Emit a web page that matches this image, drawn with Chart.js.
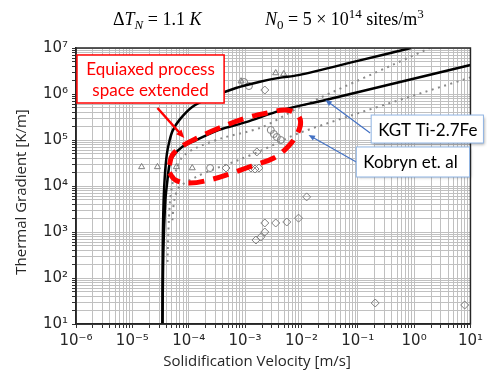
<!DOCTYPE html>
<html>
<head>
<meta charset="utf-8">
<script src="https://cdn.jsdelivr.net/npm/chart.js@4.4.0/dist/chart.umd.min.js"></script>
<style>
  html, body { margin: 0; padding: 0; background: #fff; }
  #wrap { width: 487px; height: 373px; }
</style>
</head>
<body>
<div id="wrap"><canvas id="myChart" width="487" height="373"></canvas></div>
<script>
// curves: velocity [m/s] and gradient [K/m]
let kgtUpperV = [3.42e-5, 3.45e-5, 3.55e-5, 3.75e-5, 4.1e-5, 4.6e-5, 5.2e-5, 6.8e-5, 1.15e-4, 2.3e-4, 6.9e-4, 1.76e-3, 4.0e-3, 8.9e-3, 0.1, 0.88];
let kgtUpperG = [10, 300, 3e3, 1.5e4, 5e4, 1e5, 1.6e5, 2.7e5, 5.2e5, 8.1e5, 1.35e6, 1.82e6, 2.24e6, 2.57e6, 5.25e6, 1e7];
let kgtLowerV = [3.42e-5, 3.56e-5, 3.86e-5, 4.2e-5, 4.55e-5, 5.14e-5, 7.7e-5, 1.36e-4, 3.47e-4, 1.04e-3, 4.48e-3, 2.67e-2, 10];
let kgtLowerG = [10, 407, 5.0e3, 1.35e4, 2.88e4, 4.27e4, 7.1e4, 1e5, 1.66e5, 2.45e5, 4.47e5, 7.4e5, 4.27e6];
let kobUpperV = [4.2e-5, 4.37e-5, 4.68e-5, 5.25e-5, 6.0e-5, 7.7e-5, 1.36e-4, 3.92e-4, 2.0e-3, 8.9e-3, 1.9];
let kobUpperG = [224, 1.1e3, 5.0e3, 1.26e4, 2.24e4, 4.27e4, 6.76e4, 1.1e5, 1.9e5, 5.0e5, 1e7];
let kobLowerV = [5.14e-5, 5.57e-5, 6.82e-5, 1.36e-4, 2.6e-4, 7.8e-4, 2.0e-3, 1.0e-2, 10];
let kobLowerG = [1.8e3, 5.0e3, 9.5e3, 1.58e4, 2.24e4, 3.7e4, 6.0e4, 1.48e5, 2.3e6];

// red dashed "extended" region outline
let regionV = [4.55e-5, 5.14e-5, 7.7e-5, 1.54e-4, 3.47e-4, 1.04e-3, 2.98e-3, 5.26e-3, 8.22e-3, 9.68e-3, 8.57e-3, 5.94e-3, 3.24e-3, 1.32e-3, 5.2e-4, 2.31e-4, 1.03e-4, 5.8e-5, 4.55e-5];
let regionG = [2.86e4, 4.72e4, 7.41e4, 1.16e5, 1.82e5, 3.0e5, 4.06e5, 4.49e5, 3.67e5, 2.46e5, 1.42e5, 7.41e4, 4.06e4, 2.72e4, 1.82e4, 1.35e4, 1.16e4, 1.35e4, 1.92e4];

// experimental points
let triV = [1.46e-5, 2.79e-5, 6.04e-5, 1.156e-4, 8.5e-4, 3.5e-3, 4.85e-3];
let triG = [2.6e4, 2.6e4, 2.6e4, 2.46e4, 1.9e6, 2.86e6, 2.72e6];
let circV = [9.6e-4, 1.17e-3, 2.4e-4, 2.86e-3, 3.24e-3, 3.66e-3, 4.3e-3];
let circG = [1.82e6, 1.49e6, 2.46e4, 1.65e5, 1.35e5, 1.16e5, 1e5];
let diaV = [2.24e-3, 4.6e-4, 1.62e-3, 1.27e-3, 1.5e-3, 1.76e-3, 1.56e-3, 1.9e-3, 2.24e-3, 2.24e-3, 3.5e-3, 5.5e-3, 8.9e-3, 1.24e-2, 0.204, 7.9];
let diaG = [1.22e6, 2.46e4, 5.5e4, 2.46e4, 2.34e4, 2.46e4, 670, 776, 1e3, 1.57e3, 1.57e3, 1.65e3, 2.0e3, 5.8e3, 28.6, 25.9];

function pts(xs, ys) {
  return xs.map((x, i) => ({x: x, y: ys[i]}));
}

let sup = {'-': '⁻', '0': '⁰', '1': '¹', '2': '²', '3': '³', '4': '⁴', '5': '⁵', '6': '⁶', '7': '⁷', '8': '⁸', '9': '⁹'};
function powLabel(v) {
  let e = Math.log10(v);
  if (Math.abs(e - Math.round(e)) > 1e-6) return '';
  return '10' + String(Math.round(e)).split('').map(c => sup[c]).join('');
}
function logTicks(lo, hi) {
  let t = [];
  for (let e = lo; e < hi; e++) {
    for (let m = 1; m < 10; m++) t.push({value: m * Math.pow(10, e)});
  }
  t.push({value: Math.pow(10, hi)});
  return t;
}

let lineBase = {showLine: true, pointRadius: 0, fill: false, tension: 0.3};
let markBase = {showLine: false, borderColor: '#7f7f7f', backgroundColor: 'rgba(255,255,255,0)', borderWidth: 1};

// text boxes and arrows, placed in data units
let notes = {
  equiax: {v0: 1.04e-6, v1: 4.25e-4, g0: 7.05e6, g1: 6.37e5, lines: ['Equiaxed process', 'space extended']},
  redArrow: {v0: 2.79e-5, g0: 4.97e5, v1: 8.36e-5, g1: 1.1e5},
  kgt: {v0: 0.173, v1: 17, g0: 3.49e5, g1: 8.6e4, text: 'KGT Ti-2.7Fe'},
  kgtArrow: {v0: 0.166, g0: 1.42e5, v1: 0.0267, g1: 7.41e5},
  kob: {v0: 0.0942, v1: 9.64, g0: 7.05e4, g1: 1.57e4, text: 'Kobryn et. al'},
  kobArrow: {v0: 0.0942, g0: 3.33e4, v1: 0.0134, g1: 1.285e5}
};

function arrow(ctx, x0, y0, x1, y1, color, w, head) {
  let a = Math.atan2(y1 - y0, x1 - x0);
  ctx.strokeStyle = color;
  ctx.fillStyle = color;
  ctx.lineWidth = w;
  ctx.beginPath();
  ctx.moveTo(x0, y0);
  ctx.lineTo(x1 - Math.cos(a) * head * 0.8, y1 - Math.sin(a) * head * 0.8);
  ctx.stroke();
  ctx.beginPath();
  ctx.moveTo(x1, y1);
  ctx.lineTo(x1 - head * Math.cos(a - 0.4), y1 - head * Math.sin(a - 0.4));
  ctx.lineTo(x1 - head * Math.cos(a + 0.4), y1 - head * Math.sin(a + 0.4));
  ctx.closePath();
  ctx.fill();
}

let extras = {
  id: 'extras',
  afterDatasetsDraw(chart) {
    let ctx = chart.ctx, xs = chart.scales.x, ys = chart.scales.y, a = chart.chartArea;
    let px = v => xs.getPixelForValue(v), py = g => ys.getPixelForValue(g);
    ctx.save();
    // frame
    ctx.strokeStyle = '#262626';
    ctx.lineWidth = 1.5;
    ctx.strokeRect(a.left, a.top, a.right - a.left, a.bottom - a.top);

    // red box
    let n = notes.equiax;
    let bx = px(n.v0), by = py(n.g0), bw = px(n.v1) - bx, bh = py(n.g1) - by;
    ctx.fillStyle = '#fff';
    ctx.fillRect(bx, by, bw, bh);
    ctx.strokeStyle = '#ff0000';
    ctx.lineWidth = 1.5;
    ctx.strokeRect(bx, by, bw, bh);
    ctx.fillStyle = '#ff0000';
    ctx.font = '17px Lato';
    ctx.textAlign = 'center';
    ctx.textBaseline = 'middle';
    ctx.fillText(n.lines[0], bx + bw / 2, by + bh * 0.3);
    ctx.fillText(n.lines[1], bx + bw / 2, by + bh * 0.74);
    let r = notes.redArrow;
    arrow(ctx, px(r.v0), py(r.g0), px(r.v1), py(r.g1), '#ff0000', 2.5, 9);

    // blue boxes
    [['kgt', 'kgtArrow'], ['kob', 'kobArrow']].forEach(k => {
      let b = notes[k[0]], ar = notes[k[1]];
      arrow(ctx, px(ar.v0), py(ar.g0), px(ar.v1), py(ar.g1), '#4472c4', 1.2, 7);
      let x0 = px(b.v0), y0 = py(b.g0), w = px(b.v1) - x0, h = py(b.g1) - y0;
      ctx.save();
      ctx.shadowColor = 'rgba(0,0,0,0.35)';
      ctx.shadowBlur = 3;
      ctx.shadowOffsetX = 1.5;
      ctx.shadowOffsetY = 1.5;
      ctx.fillStyle = '#fff';
      ctx.fillRect(x0, y0, w, h);
      ctx.restore();
      ctx.strokeStyle = '#8fb4e3';
      ctx.lineWidth = 1;
      ctx.strokeRect(x0, y0, w, h);
      ctx.fillStyle = '#000';
      ctx.font = '17px Lato';
      ctx.textAlign = 'left';
      ctx.textBaseline = 'middle';
      ctx.fillText(b.text, x0 + 7, y0 + h / 2 + 1);
    });
    ctx.restore();
  },
  afterDraw(chart) {
    let ctx = chart.ctx;
    ctx.save();
    // axis titles (the figure centres them on the whole image, not the plot)
    ctx.fillStyle = '#262626';
    ctx.font = '15px "Open Sans"';
    ctx.textAlign = 'center';
    ctx.textBaseline = 'middle';
    ctx.fillText('Solidification Velocity [m/s]', 257, 362);
    ctx.save();
    ctx.translate(22, 192);
    ctx.rotate(-Math.PI / 2);
    ctx.fillText('Thermal Gradient [K/m]', 0, 0);
    ctx.restore();

    ctx.fillStyle = '#000';
    ctx.textAlign = 'left';
    ctx.textBaseline = 'alphabetic';
    let fs = 18, base = 25, serif = '"Liberation Serif", serif';
    function run(parts, x) {
      parts.forEach(p => {
        let size = (p.sub || p.sup) ? Math.round(fs * 0.7) : fs;
        ctx.font = (p.it ? 'italic ' : '') + size + 'px ' + serif;
        let dy = p.sub ? 4 : (p.sup ? -7 : 0);
        ctx.fillText(p.t, x, base + dy);
        x += ctx.measureText(p.t).width;
      });
    }
    run([{t: 'Δ'}, {t: 'T', it: 1}, {t: 'N', it: 1, sub: 1}, {t: ' = 1.1 '}, {t: 'K', it: 1}], 113);
    run([{t: 'N', it: 1}, {t: '0', sub: 1}, {t: ' = 5 × 10'}, {t: '14', sup: 1}, {t: ' sites/m'}, {t: '3', sup: 1}], 265);
    ctx.restore();
  }
};

let ctx = document.getElementById('myChart').getContext('2d');
let myChart = new Chart(ctx, {
  type: 'scatter',
  data: {
    datasets: [
      Object.assign({}, lineBase, {data: pts(regionV, regionG), borderColor: '#ff0000', borderWidth: 5, borderDash: [16, 9], tension: 0.4}),
      Object.assign({}, lineBase, {data: pts(kgtUpperV, kgtUpperG), borderColor: '#000', borderWidth: 2.5}),
      Object.assign({}, lineBase, {data: pts(kgtLowerV, kgtLowerG), borderColor: '#000', borderWidth: 2.5}),
      Object.assign({}, lineBase, {data: pts(kobUpperV, kobUpperG), borderColor: '#8a8a8a', borderWidth: 2, borderDash: [2, 4.5]}),
      Object.assign({}, lineBase, {data: pts(kobLowerV, kobLowerG), borderColor: '#8a8a8a', borderWidth: 2, borderDash: [2, 4.5]}),
      Object.assign({}, markBase, {data: pts(triV, triG), pointStyle: 'triangle', pointRadius: 3.5}),
      Object.assign({}, markBase, {data: pts(circV, circG), pointStyle: 'circle', pointRadius: 3.5}),
      Object.assign({}, markBase, {data: pts(diaV, diaG), pointStyle: 'rectRot', pointRadius: 4})
    ]
  },
  options: {
    responsive: false,
    animation: false,
    devicePixelRatio: 1,
    layout: {padding: {top: 48, right: 14, left: 0, bottom: 0}},
    plugins: {legend: {display: false}, tooltip: {enabled: false}},
    scales: {
      x: {
        type: 'logarithmic',
        min: 1e-6,
        max: 10,
        afterBuildTicks: s => { s.ticks = logTicks(-6, 1); },
        afterFit: s => { s.height = 49; },
        grid: {color: '#c0c0c0', lineWidth: 1, tickLength: 4, tickColor: '#333'},
        border: {color: '#262626', width: 1.5},
        ticks: {
          autoSkip: false, maxRotation: 0, padding: 4, color: '#262626',
          font: {family: '"DejaVu Sans"', size: 15},
          callback: v => powLabel(v)
        },
        title: {display: false}
      },
      y: {
        type: 'logarithmic',
        min: 10,
        max: 1e7,
        afterBuildTicks: s => { s.ticks = logTicks(1, 7); },
        afterFit: s => { s.width = 76; },
        grid: {color: '#c0c0c0', lineWidth: 1, tickLength: 4, tickColor: '#333'},
        border: {color: '#262626', width: 1.5},
        ticks: {
          autoSkip: false, padding: 4, color: '#262626',
          font: {family: '"DejaVu Sans"', size: 15},
          callback: v => powLabel(v)
        },
        title: {display: false}
      }
    }
  },
  plugins: [extras]
});
</script>
</body>
</html>
